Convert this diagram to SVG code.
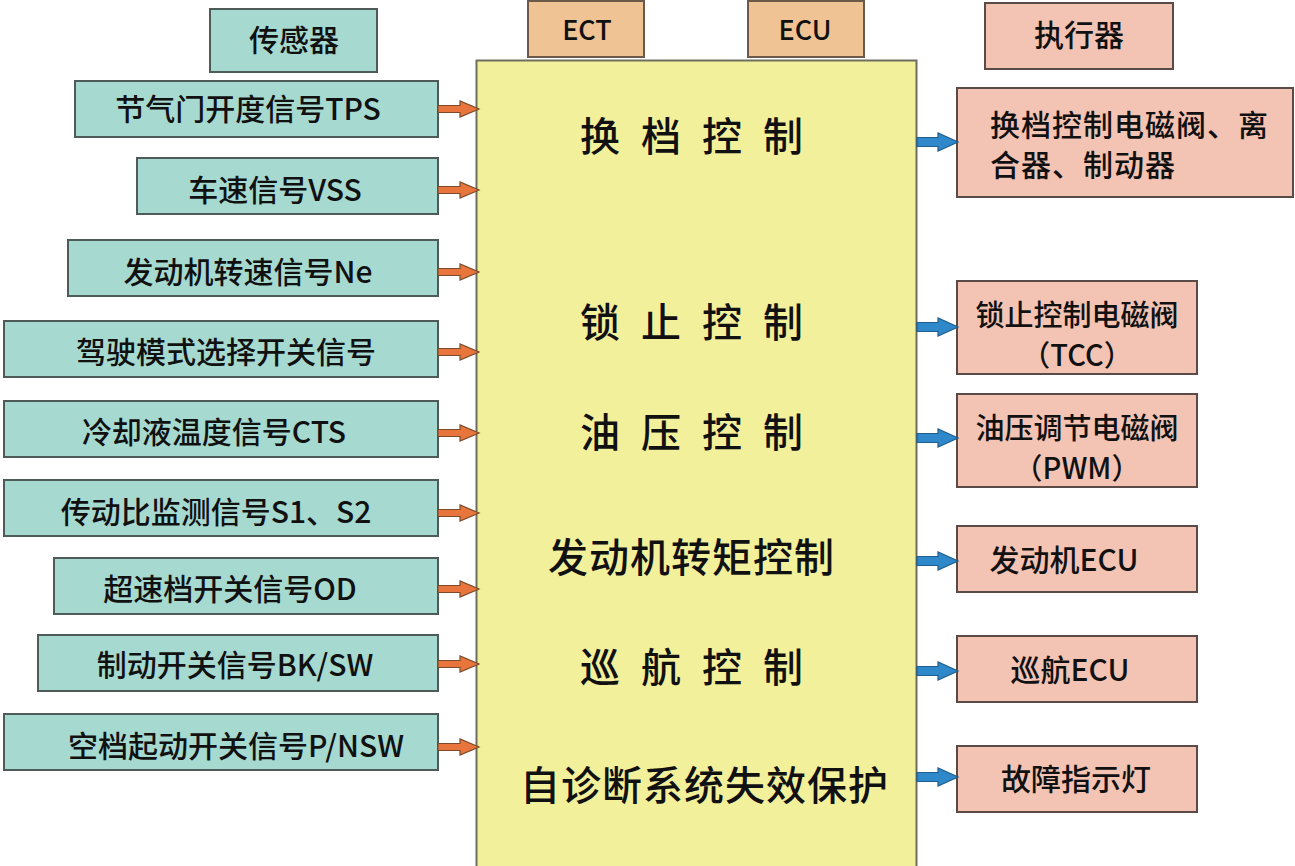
<svg xmlns="http://www.w3.org/2000/svg" xmlns:xlink="http://www.w3.org/1999/xlink" width="1295" height="866" viewBox="0 0 1295 866">
<style>
.t{font-family:"Noto Sans CJK SC","Noto Sans",sans-serif;fill:#111;font-weight:500;}
.s{fill:#a6d9d0;stroke:#4f5b59;stroke-width:2;}
.a{fill:#f3c3b3;stroke:#5b4b47;stroke-width:2;}
.e{fill:#efc393;stroke:#6b5a4a;stroke-width:2;}
.m{fill:#f3f09c;stroke:#6e6e60;stroke-width:2;}
.f30{font-size:30px;}
.f29{font-size:29px;}
.f40{font-size:40px;}
.mid{text-anchor:middle;}
</style>
<defs>
<path id="oa" d="M0,-3.5 H22 V-8 L41,0 L22,8 V3.5 H0 Z" fill="#e8763c" stroke="#7d4a2c" stroke-width="1.2"/>
<path id="ba" d="M0,-4.5 H21 V-9 L41,0 L21,9 V4.5 H0 Z" fill="#2f88c9" stroke="#1f5e8e" stroke-width="1.2"/>
</defs>
<rect width="1295" height="866" fill="#ffffff"/>

<g id="main">
<rect class="m" x="476.5" y="60.5" width="440" height="820"/>
<text class="t f40" x="580" y="151" style="letter-spacing:6px" xml:space="preserve">换 档 控 制</text>
<text class="t f40" x="580" y="337" style="letter-spacing:6px" xml:space="preserve">锁 止 控 制</text>
<text class="t f40" x="580" y="447" style="letter-spacing:6px" xml:space="preserve">油 压 控 制</text>
<text class="t f40" x="548" y="572" style="letter-spacing:1px">发动机转矩控制</text>
<text class="t f40" x="580" y="682" style="letter-spacing:6px" xml:space="preserve">巡 航 控 制</text>
<text class="t f40" x="520" y="800" style="letter-spacing:1px">自诊断系统失效保护</text>
</g>

<g id="ect"><rect class="e" x="528" y="1" width="116" height="56"/><text class="t mid" x="587" y="40" style="font-size:27px">ECT</text></g>
<g id="ecu"><rect class="e" x="748" y="1" width="116" height="56"/><text class="t mid" x="805" y="40" style="font-size:27px">ECU</text></g>

<g id="sensor-title"><rect class="s" x="210" y="9" width="167" height="63"/><text class="t f30 mid" x="294" y="51">传感器</text></g>
<g id="s1"><rect class="s" x="75" y="81" width="363" height="56"/><text class="t f30 mid" x="248" y="120">节气门开度信号TPS</text></g>
<g id="s2"><rect class="s" x="137" y="158" width="301" height="56"/><text class="t f30 mid" x="275" y="201">车速信号VSS</text></g>
<g id="s3"><rect class="s" x="68" y="240" width="370" height="56"/><text class="t f30 mid" x="248" y="283">发动机转速信号Ne</text></g>
<g id="s4"><rect class="s" x="4" y="321" width="434" height="56"/><text class="t f30 mid" x="226" y="363">驾驶模式选择开关信号</text></g>
<g id="s5"><rect class="s" x="4" y="401" width="434" height="56"/><text class="t f30 mid" x="214" y="443">冷却液温度信号CTS</text></g>
<g id="s6"><rect class="s" x="4" y="480" width="434" height="56"/><text class="t f30 mid" x="216" y="523">传动比监测信号S1、S2</text></g>
<g id="s7"><rect class="s" x="54" y="558" width="384" height="56"/><text class="t f30 mid" x="230" y="600">超速档开关信号OD</text></g>
<g id="s8"><rect class="s" x="38" y="635" width="400" height="56"/><text class="t f30 mid" x="235" y="676">制动开关信号BK/SW</text></g>
<g id="s9"><rect class="s" x="4" y="714" width="434" height="56"/><text class="t f30 mid" x="236" y="757">空档起动开关信号P/NSW</text></g>

<g id="actuator-title"><rect class="a" x="985" y="3" width="188" height="66"/><text class="t f30 mid" x="1079" y="46">执行器</text></g>
<g id="a1"><rect class="a" x="957" y="88" width="336" height="109"/>
<text class="t f30" x="990" y="136" style="letter-spacing:1px">换档控制电磁阀、离</text>
<text class="t f30" x="990" y="176" style="letter-spacing:1px">合器、制动器</text></g>
<g id="a2"><rect class="a" x="957" y="281" width="240" height="93"/>
<text class="t f29 mid" x="1077" y="326">锁止控制电磁阀</text>
<text class="t f29 mid" x="1077" y="366">（TCC）</text></g>
<g id="a3"><rect class="a" x="957" y="394" width="240" height="93"/>
<text class="t f29 mid" x="1077" y="439">油压调节电磁阀</text>
<text class="t f29 mid" x="1077" y="479">（PWM）</text></g>
<g id="a4"><rect class="a" x="957" y="526" width="240" height="66"/><text class="t f30 mid" x="1064" y="571">发动机ECU</text></g>
<g id="a5"><rect class="a" x="957" y="636" width="240" height="66"/><text class="t f30 mid" x="1070" y="681">巡航ECU</text></g>
<g id="a6"><rect class="a" x="957" y="746" width="240" height="66"/><text class="t f30 mid" x="1076" y="790">故障指示灯</text></g>

<g id="connectors">
<use xlink:href="#oa" x="438" y="109"/>
<use xlink:href="#oa" x="438" y="190"/>
<use xlink:href="#oa" x="438" y="272"/>
<use xlink:href="#oa" x="438" y="352"/>
<use xlink:href="#oa" x="438" y="433"/>
<use xlink:href="#oa" x="438" y="513"/>
<use xlink:href="#oa" x="438" y="589"/>
<use xlink:href="#oa" x="438" y="664"/>
<use xlink:href="#oa" x="438" y="747"/>
<use xlink:href="#ba" x="917" y="142"/>
<use xlink:href="#ba" x="917" y="327"/>
<use xlink:href="#ba" x="917" y="438"/>
<use xlink:href="#ba" x="917" y="561"/>
<use xlink:href="#ba" x="917" y="671"/>
<use xlink:href="#ba" x="917" y="777"/>
</g>
</svg>
